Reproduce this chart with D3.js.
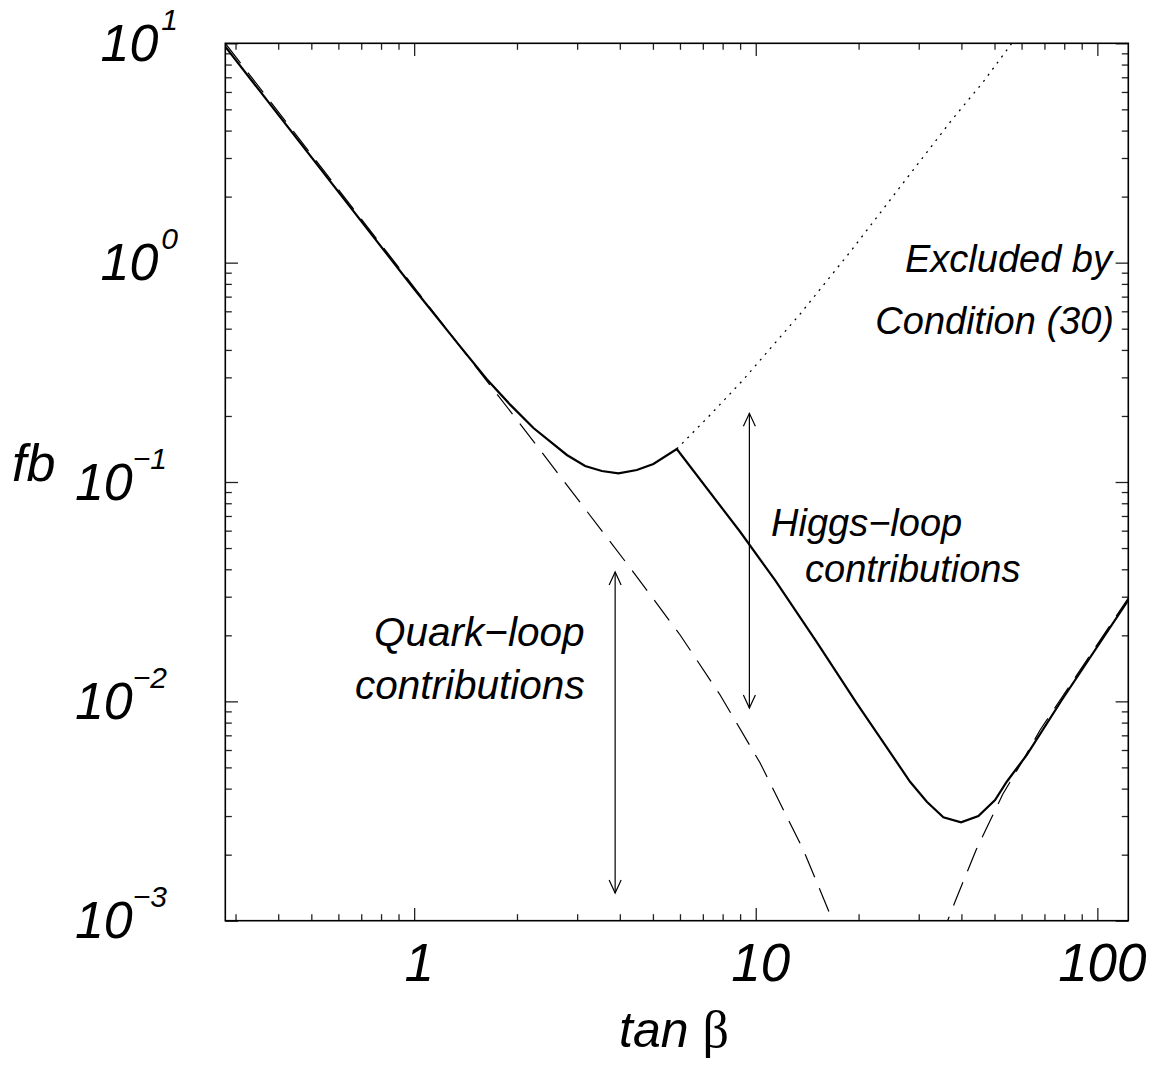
<!DOCTYPE html>
<html><head><meta charset="utf-8">
<script src="https://cdn.jsdelivr.net/npm/d3@7"></script>
<style>
html,body{margin:0;padding:0;background:#fff;}
svg{display:block;}
text{font-family:"Liberation Sans",Arial,Helvetica,sans-serif;font-style:italic;fill:#000;}
</style></head><body>
<svg id="chart" width="1152" height="1068"></svg>
<script>
// ---------- data ----------
const totalTan = [0.28, 1.0, 1.363, 1.632, 1.91, 2.235, 2.80, 3.166, 3.543, 3.963, 4.486, 5.016, 5.873,
                  9.0, 11.39, 15.02, 19.76, 28.3, 31.68, 35.42, 39.9, 44.85, 50.18, 54.3, 62.1, 78.7, 123.2];
const totalVal = [9.65, 0.758, 0.415, 0.294, 0.2253, 0.1762, 0.1328, 0.1183, 0.1122, 0.1096, 0.1134, 0.1208, 0.1414,
                  0.0593, 0.0357, 0.01884, 0.0098, 0.0043, 0.003487, 0.002961, 0.00281, 0.0030, 0.00355, 0.0043, 0.00569, 0.01014, 0.02897];

const quarkLowTan = [0.28, 1.0, 2.0, 4.337, 6.006, 7.866, 10.30, 13.79, 16.8, 18.26];
const quarkLowVal = [10.0, 0.772, 0.192, 0.0397, 0.02007, 0.01069, 0.005235, 0.0021, 0.001, 0.000735];

const quarkHighTan = [34.64, 38.6, 44.16, 52.85, 60.6, 67.98, 77.8, 123.2];
const quarkHighVal = [0.000817, 0.001256, 0.0021, 0.00377, 0.0054, 0.0074, 0.01014, 0.0296];

const excludedTan = [5.873, 7.35, 9.18, 13.49, 18.89, 26.46, 37.48, 46.38, 56.16, 60];
const excludedVal = [0.1414, 0.202, 0.2917, 0.5834, 1.118, 2.213, 4.47, 6.68, 10.0, 11.6];

const arrowTan  = [3.876, 9.58];
const arrowLow  = [0.001337, 0.00932];
const arrowHigh = [0.0389, 0.2056];

const xMajorTicks = [1, 10, 100];
const xTickLabels = ["1", "10", "100"];
const yMajorTicks = [10, 1, 0.1, 0.01, 0.001];
const yTickExponents = ["1", "0", "\u22121", "\u22122", "\u22123"];

// ---------- layout ----------
const L = 225.3, R = 1128.3, T = 43.3, B = 920.7;
const svg = d3.select("#chart");

const x = d3.scaleLog().domain([0.28, 123.2]).range([L, R]);
const y = d3.scaleLog().domain([1e-3, 10]).range([B, T]);

// minor tick values
const xMinor = [];
[0.1, 1, 10, 100].forEach(d => { for (let k = 2; k <= 9; k++) { const v = d * k; if (v >= 0.28 && v <= 123.2) xMinor.push(v); } });
const yMinor = [];
[0.001, 0.01, 0.1, 1].forEach(d => { for (let k = 2; k <= 9; k++) yMinor.push(d * k); });

const majorLen = 12.7, minorLen = 6.5;

function styleAxis(g) {
  g.selectAll(".tick line").attr("stroke", "#222").attr("stroke-width", 1.3);
  g.selectAll(".tick text").remove();
  g.select(".domain").remove();
}
[[d3.axisBottom(x), `translate(0,${B})`, xMajorTicks, xMinor],
 [d3.axisTop(x), `translate(0,${T})`, xMajorTicks, xMinor],
 [d3.axisLeft(y), `translate(${L},0)`, yMajorTicks, yMinor],
 [d3.axisRight(y), `translate(${R},0)`, yMajorTicks, yMinor]].forEach(([ax, tr, maj, mn]) => {
  svg.append("g").attr("transform", tr)
    .call(ax.tickValues(maj).tickSize(-majorLen).tickFormat("")).call(styleAxis);
  svg.append("g").attr("transform", tr)
    .call(ax.tickValues(mn).tickSize(-minorLen).tickFormat("")).call(styleAxis);
});

// frame
svg.append("rect").attr("x", L).attr("y", T).attr("width", R - L).attr("height", B - T)
  .attr("fill", "none").attr("stroke", "#000").attr("stroke-width", 1.6);

// clip
svg.append("clipPath").attr("id", "plotclip").append("rect")
  .attr("x", L).attr("y", T).attr("width", R - L).attr("height", B - T);

const line = d3.line().x(d => x(d[0])).y(d => y(d[1]));
const zip = (a, b) => a.map((v, i) => [v, b[i]]);

const curves = svg.append("g").attr("clip-path", "url(#plotclip)");
curves.append("path").attr("d", line(zip(quarkLowTan, quarkLowVal)))
  .attr("fill", "none").attr("stroke", "#000").attr("stroke-width", 1.2).attr("stroke-dasharray", "25,12");
curves.append("path").attr("d", line(zip(quarkHighTan, quarkHighVal)))
  .attr("fill", "none").attr("stroke", "#000").attr("stroke-width", 1.2).attr("stroke-dasharray", "25,12");
curves.append("path").attr("d", line(zip(excludedTan, excludedVal)))
  .attr("fill", "none").attr("stroke", "#000").attr("stroke-width", 1.3).attr("stroke-dasharray", "2,5.6");
curves.append("path").attr("d", line(zip(totalTan, totalVal)))
  .attr("fill", "none").attr("stroke", "#000").attr("stroke-width", 2.2).attr("stroke-linejoin", "miter");

// double arrows
const head = 13, half = 6;
arrowTan.forEach((t, i) => {
  const ax = x(t), y1 = y(arrowHigh[i]), y2 = y(arrowLow[i]);
  const g = svg.append("g").attr("fill", "none").attr("stroke", "#000").attr("stroke-width", 1.2);
  g.append("line").attr("x1", ax).attr("x2", ax).attr("y1", y1).attr("y2", y2);
  g.append("path").attr("d", `M${ax - half},${y1 + head}L${ax},${y1}L${ax + half},${y1 + head}`);
  g.append("path").attr("d", `M${ax - half},${y2 - head}L${ax},${y2}L${ax + half},${y2 - head}`);
});

// x tick labels
xMajorTicks.forEach((v, i) => {
  svg.append("text").attr("x", x(v) + 5).attr("y", 981).attr("text-anchor", "middle")
    .attr("font-size", 53).text(xTickLabels[i]);
});
// y tick labels
yMajorTicks.forEach((v, i) => {
  const neg = yTickExponents[i].startsWith("\u2212");
  const t = svg.append("text").attr("x", neg ? 167 : 178).attr("y", y(v) + 17.7).attr("text-anchor", "end");
  t.append("tspan").attr("font-size", 52).text("10");
  t.append("tspan").attr("font-size", 30).attr("dy", -31).attr("dx", neg ? 0 : 3).text(yTickExponents[i]);
});

// axis titles
svg.append("text").attr("x", 12).attr("y", 481).attr("font-size", 52).text("fb");
const xt = svg.append("text").attr("x", 619).attr("y", 1047).attr("font-size", 50);
xt.append("tspan").text("tan ");
xt.append("tspan").attr("font-style", "normal").attr("font-family", "'Liberation Serif','DejaVu Serif',serif").attr("font-size", 52).text("\u03B2");

// annotations
function note(lines, xs, ys, anchor, size) {
  lines.forEach((s, i) => {
    svg.append("text").attr("x", xs[i]).attr("y", ys[i]).attr("text-anchor", anchor)
      .attr("font-size", size).text(s);
  });
}
note(["Excluded by", "Condition (30)"], [1112, 1114], [272, 334], "end", 38);
note(["Higgs\u2212loop", "contributions"], [771, 805], [536, 582], "start", 38);
note(["Quark\u2212loop", "contributions"], [374, 355], [646, 699], "start", 40.5);
</script>
</body></html>
